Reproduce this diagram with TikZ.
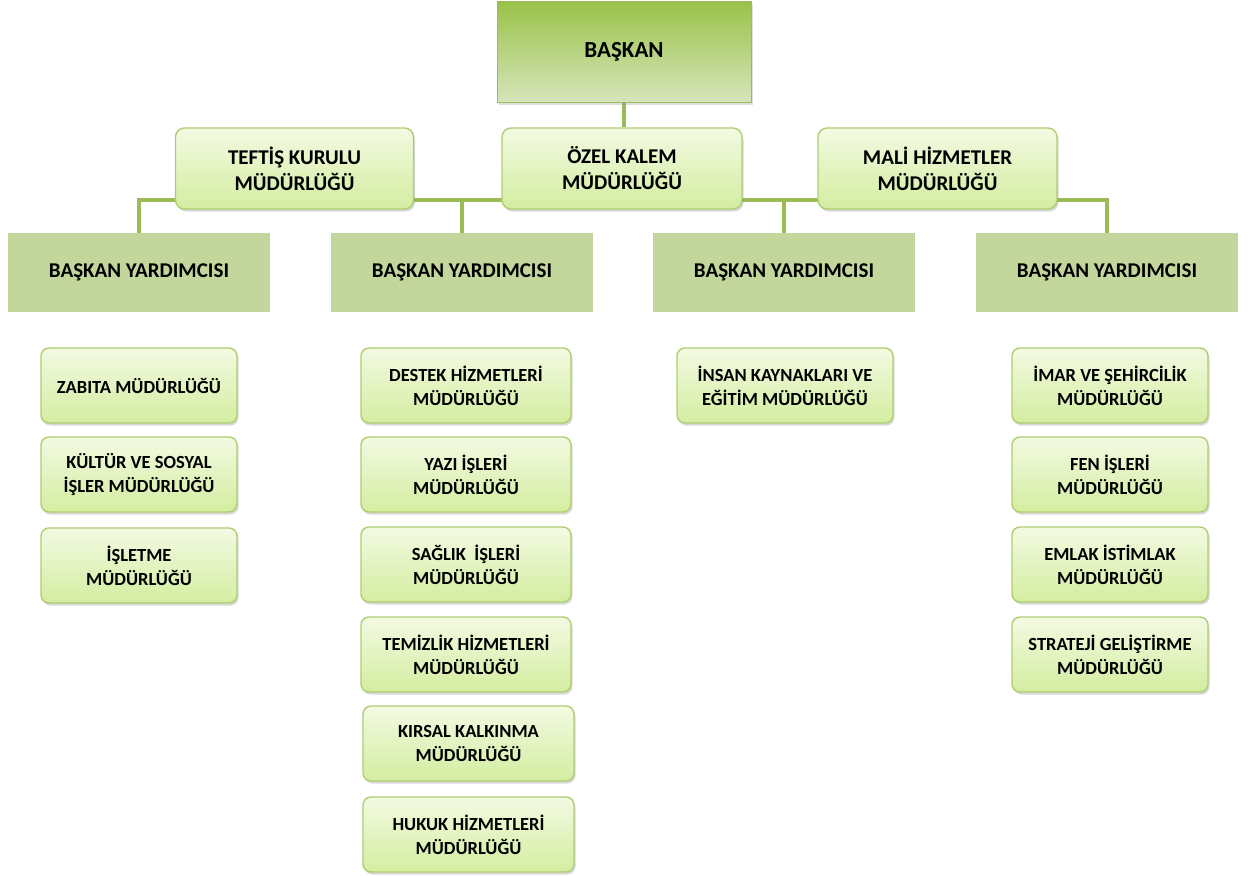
\documentclass[tikz,border=0pt]{standalone}
\usepackage{fontspec}
\setmainfont{Carlito}
\usetikzlibrary{positioning,shadows,backgrounds}

\definecolor{linegreen}{HTML}{9BBB59}
\definecolor{chieftop}{HTML}{9AC249}
\definecolor{chiefbot}{HTML}{D6E5BB}
\definecolor{dgreen}{HTML}{C3D69B}
\definecolor{boxtop}{HTML}{F3FAE2}
\definecolor{boxbot}{HTML}{D3EDA0}
\definecolor{boxline}{HTML}{AECE72}

\begin{document}
\begin{tikzpicture}[
    x=1pt, y=-1pt,
    every node/.style={font=\bfseries, align=center, inner sep=0pt},
    chief/.style={rectangle, minimum width=254pt, minimum height=101pt,
        top color=chieftop, bottom color=chiefbot,
        draw=linegreen, line width=0.8pt, font=\bfseries\fontsize{23}{26}\selectfont,
        drop shadow={opacity=0.25, shadow xshift=1.5pt, shadow yshift=-2pt}},
    office/.style={rectangle, rounded corners=9pt, minimum width=238pt, minimum height=81pt,
        top color=boxtop, bottom color=boxbot, draw=boxline, line width=1.4pt,
        font=\bfseries\fontsize{21}{26}\selectfont,
        drop shadow={opacity=0.3, shadow xshift=1.5pt, shadow yshift=-2.5pt}},
    deputy/.style={rectangle, fill=dgreen, minimum width=262pt, minimum height=79pt,
        font=\bfseries\fontsize{21}{24}\selectfont},
    unit/.style={rectangle, rounded corners=8pt, minimum height=75pt,
        top color=boxtop, bottom color=boxbot, draw=boxline, line width=1.4pt,
        font=\bfseries\fontsize{18.5}{24}\selectfont,
        drop shadow={opacity=0.3, shadow xshift=1.5pt, shadow yshift=-2.5pt}},
    link/.style={draw=linegreen, line width=3.2pt}
]
\useasboundingbox (0,0) rectangle (1254,876);

% ---------------- Top ----------------
\node[chief] (bas) at (624,52) {BAŞKAN};

\node[office] (teftis) at (294.5,168.5) {TEFTİŞ KURULU\\MÜDÜRLÜĞÜ};
\node[office, minimum width=240pt] (ozel) at (622,168.5) {ÖZEL KALEM\\MÜDÜRLÜĞÜ};
\node[office, minimum width=239pt] (mali) at (937.5,168.5) {MALİ HİZMETLER\\MÜDÜRLÜĞÜ};

% ---------------- Deputies ----------------
\node[deputy] (by1) at (139,272.5) {BAŞKAN YARDIMCISI};
\node[deputy] (by2) at (462,272.5) {BAŞKAN YARDIMCISI};
\node[deputy] (by3) at (784,272.5) {BAŞKAN YARDIMCISI};
\node[deputy] (by4) at (1107,272.5) {BAŞKAN YARDIMCISI};

% ---------------- Units ----------------
\node[unit, minimum width=196pt] (zab) at (139,385.5) {ZABITA MÜDÜRLÜĞÜ};
\node[unit, minimum width=196pt] (kul) at (139,474.5) {KÜLTÜR VE SOSYAL\\İŞLER MÜDÜRLÜĞÜ};
\node[unit, minimum width=196pt] (isl) at (139,565.5) {İŞLETME\\MÜDÜRLÜĞÜ};

\node[unit, minimum width=210pt] (des) at (466,385.5) {DESTEK HİZMETLERİ\\MÜDÜRLÜĞÜ};
\node[unit, minimum width=210pt] (yaz) at (466,474.5) {YAZI İŞLERİ\\MÜDÜRLÜĞÜ};
\node[unit, minimum width=210pt] (sag) at (466,564.5) {SAĞLIK\ \ İŞLERİ\\MÜDÜRLÜĞÜ};
\node[unit, minimum width=210pt] (tem) at (466,654.5) {TEMİZLİK HİZMETLERİ\\MÜDÜRLÜĞÜ};
\node[unit, minimum width=211pt] (kir) at (468.5,743.5) {KIRSAL KALKINMA\\MÜDÜRLÜĞÜ};
\node[unit, minimum width=211pt] (huk) at (468.5,834.5) {HUKUK HİZMETLERİ\\MÜDÜRLÜĞÜ};

\node[unit, minimum width=216pt] (ins) at (785,385.5) {İNSAN KAYNAKLARI VE\\EĞİTİM MÜDÜRLÜĞÜ};

\node[unit, minimum width=196pt] (imar) at (1110,385.5) {İMAR VE ŞEHİRCİLİK\\MÜDÜRLÜĞÜ};
\node[unit, minimum width=196pt] (fen) at (1110,474.5) {FEN İŞLERİ\\MÜDÜRLÜĞÜ};
\node[unit, minimum width=196pt] (eml) at (1110,564.5) {EMLAK İSTİMLAK\\MÜDÜRLÜĞÜ};
\node[unit, minimum width=196pt] (str) at (1110,654.5) {STRATEJİ GELİŞTİRME\\MÜDÜRLÜĞÜ};

% ---------------- Links ----------------
\coordinate (bus) at (0,200);
\begin{pgfonlayer}{background}
\draw[link] (bas.south) -- (bas.south |- ozel.north);
\draw[link] (by1.north) -- (by1.north |- bus) -- (by4.north |- bus) -- (by4.north);
\draw[link] (by2.north) -- (by2.north |- bus);
\draw[link] (by3.north) -- (by3.north |- bus);
\end{pgfonlayer}

\end{tikzpicture}
\end{document}
